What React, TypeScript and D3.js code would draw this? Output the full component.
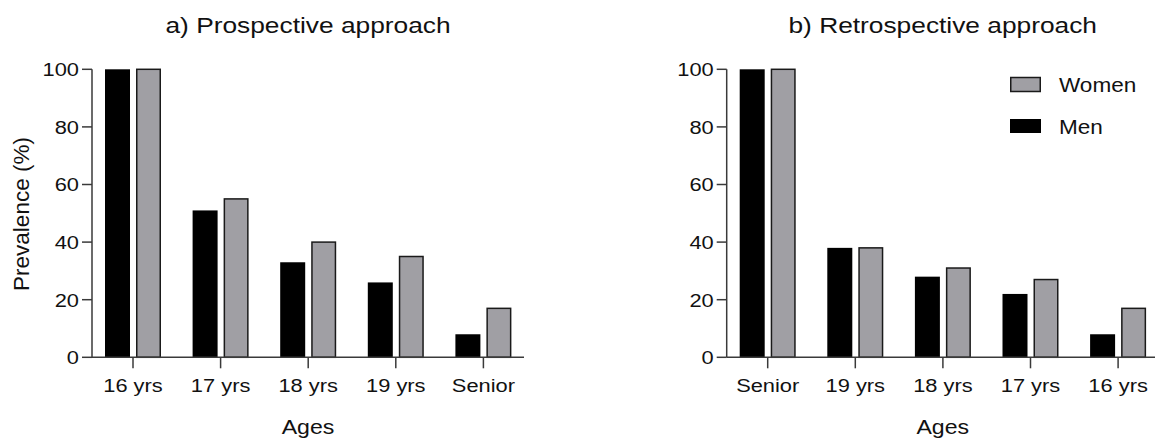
import React from 'react'
import * as d3 from 'd3'

// values
const prospAges = ['16 yrs', '17 yrs', '18 yrs', '19 yrs', 'Senior']
const prospMen = [100, 51, 33, 26, 8]
const prospWomen = [100, 55, 40, 35, 17]

const retroAges = ['Senior', '19 yrs', '18 yrs', '17 yrs', '16 yrs']
const retroMen = [100, 38, 28, 22, 8]
const retroWomen = [100, 38, 31, 27, 17]

const yTicks = [0, 20, 40, 60, 80, 100]
const seriesNames = ['Women', 'Men']

const FONT = '"Liberation Sans", Arial, sans-serif'
const GREY = '#a09fa4'
const AXIS = '#3a3a3a'

const y = d3.scaleLinear().domain([0, 100]).range([357.3, 69.3])

function Panel({ axisX, title, ages, men, women, showYLabel }) {
  const axisW = 432
  const x = d3.scalePoint()
    .domain(ages)
    .range([axisX + 41, axisX + 41 + 4 * 87.6])
  const mid = axisX + axisW / 2
  return (
    <g>
      <text transform={`translate(${mid},33) scale(1.17,1)`} textAnchor="middle"
        fontSize={22.5} fontFamily={FONT} fill="#111">{title}</text>

      {ages.map((a, i) => (
        <g key={a}>
          <rect x={x(a) - 28} y={y(men[i])} width={25} height={y(0) - y(men[i])} fill="#000" />
          <rect x={x(a) + 3.75} y={y(women[i])} width={23.5} height={y(0) - y(women[i])}
            fill={GREY} stroke="#1a1a1a" strokeWidth={1.5} />
        </g>
      ))}

      {/* y axis */}
      <line x1={axisX} x2={axisX} y1={y(100)} y2={y(0)} stroke={AXIS} strokeWidth={1.5} />
      {yTicks.map(t => (
        <g key={t}>
          <line x1={axisX - 10} x2={axisX} y1={y(t)} y2={y(t)} stroke={AXIS} strokeWidth={1.5} />
          <text transform={`translate(${axisX - 13},${y(t) + 6.8}) scale(1.15,1)`} textAnchor="end"
            fontSize={19} fontFamily={FONT} fill="#111">{t}</text>
        </g>
      ))}

      {/* x axis */}
      <line x1={axisX} x2={axisX + axisW} y1={y(0)} y2={y(0)} stroke={AXIS} strokeWidth={1.5} />
      {ages.map(a => (
        <g key={a}>
          <line x1={x(a)} x2={x(a)} y1={y(0)} y2={y(0) + 11} stroke={AXIS} strokeWidth={1.5} />
          <text transform={`translate(${x(a)},392) scale(1.15,1)`} textAnchor="middle"
            fontSize={19} fontFamily={FONT} fill="#111">{a}</text>
        </g>
      ))}
      <text transform={`translate(${mid},433.5) scale(1.1,1)`} textAnchor="middle"
        fontSize={21} fontFamily={FONT} fill="#111">Ages</text>

      {showYLabel && (
        <text transform={`translate(28.5,214) rotate(-90)`} textAnchor="middle"
          fontSize={22.5} fontFamily={FONT} fill="#111">Prevalence (%)</text>
      )}
    </g>
  )
}

function Legend() {
  const ly = d3.scalePoint().domain(seriesNames).range([84.5, 126])
  return (
    <g>
      {seriesNames.map(s => (
        <g key={s}>
          {s === 'Women'
            ? <rect x={1010.75} y={ly(s) - 7} width={29.5} height={14} fill={GREY} stroke="#1a1a1a" strokeWidth={1.5} />
            : <rect x={1010} y={ly(s) - 7} width={31} height={14} fill="#000" />}
          <text transform={`translate(1059,${ly(s) + 7.5}) scale(1.1,1)`} fontSize={20.5}
            fontFamily={FONT} fill="#111">{s}</text>
        </g>
      ))}
    </g>
  )
}

export default function App() {
  return (
    <svg width={1155} height={439} style={{ position: 'absolute', left: 0, top: 0, background: '#fff' }}>
      <Panel axisX={92} title="a) Prospective approach" ages={prospAges}
        men={prospMen} women={prospWomen} showYLabel />
      <Panel axisX={726.7} title="b) Retrospective approach" ages={retroAges}
        men={retroMen} women={retroWomen} showYLabel={false} />
      <Legend />
    </svg>
  )
}
